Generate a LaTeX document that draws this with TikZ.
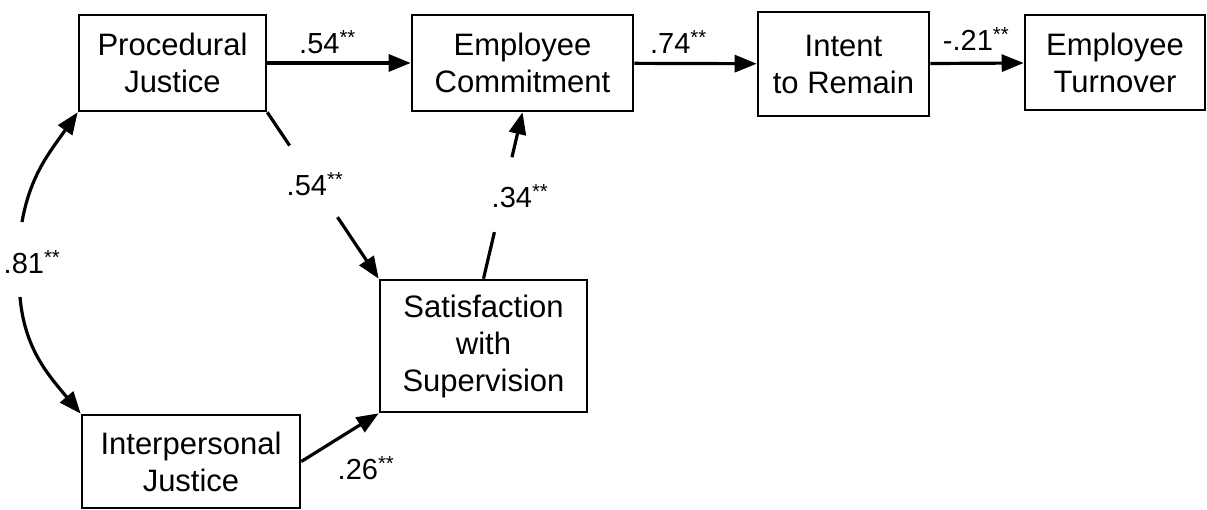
\documentclass[tikz,border=0pt]{standalone}
\usepackage{fontspec}
\setmainfont{Liberation Sans}
\usetikzlibrary{arrows.meta,calc}

\tikzset{
  var/.style={draw, line width=2.6pt, align=center, inner sep=0pt, font=\fontsize{31}{37}\selectfont},
  link/.style={line width=3.2pt, -{Triangle[length=22pt,width=17pt]}},
  plain/.style={line width=3.2pt},
  coef/.style={font=\fontsize{29}{34}\selectfont, inner sep=2pt}
}

\begin{document}
\begin{tikzpicture}[x=1pt, y=1pt]
        \useasboundingbox (0,0) rectangle (1207,510);

        \node[var, minimum width=187pt, minimum height=96pt] (PJ) at (172.5,447) {Procedural\\Justice};
        \node[var, minimum width=221pt, minimum height=96pt] (EC) at (522.5,447) {Employee\\Commitment};
        \node[var, minimum width=171pt, minimum height=104pt] (IR) at (843.5,446) {Intent\\to Remain};
        \node[var, minimum width=180pt, minimum height=95pt] (ET) at (1115,447.5) {Employee\\Turnover};
        \node[var, minimum width=207pt, minimum height=132pt] (SS) at (483.5,164) {Satisfaction\\with\\Supervision};
        \node[var, minimum width=218pt, minimum height=93pt] (IJ) at (191,48.5) {Interpersonal\\Justice};

        % top row
        \draw[link] (PJ) -- (EC) node[coef, pos=0.42, above=6pt] {.54\textsuperscript{**}};
        \draw[link] (EC) -- (IR) node[coef, pos=0.36, above=6pt] {.74\textsuperscript{**}};
        \draw[link] (IR) -- (ET) node[coef, pos=0.49, above=9pt] {-.21\textsuperscript{**}};

        % paths through satisfaction with supervision
        \node[coef] (c2) at (315,326) {.54\textsuperscript{**}};
        \draw[plain] (PJ.south east) -- ($(PJ.south east)!0.2!(SS.north west)$);
        \draw[link] ($(PJ.south east)!0.63!(SS.north west)$) -- (SS.north west);

        \node[coef] (c4) at (520,314) {.34\textsuperscript{**}};
        \draw[plain] (SS.north) -- ($(SS.north)!0.28!(EC.south)$);
        \draw[link] ($(SS.north)!0.73!(EC.south)$) -- (EC.south);

        \node[coef] (c3) at (366,42) {.26\textsuperscript{**}};
        \draw[link] (IJ.east) -- (SS.south west);

        % correlation
        \node[coef] (c1) at (32,248) {.81\textsuperscript{**}};
        \draw[link] ([shift={(-10pt,40pt)}]c1.center) to[out=80,in=-125] (PJ.south west);
        \draw[link] ([shift={(-12pt,-35pt)}]c1.center) to[out=-85,in=130] (IJ.north west);
\end{tikzpicture}
\end{document}
